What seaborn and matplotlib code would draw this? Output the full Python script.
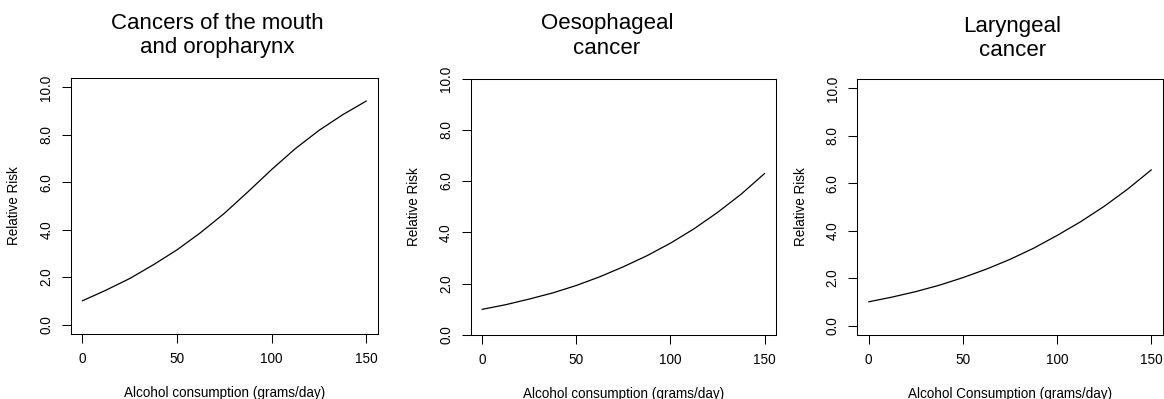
import numpy as np
import pandas as pd
import matplotlib
matplotlib.use("Agg")
import matplotlib.pyplot as plt
import seaborn as sns

dose = [0, 12.5, 25, 37.5, 50, 62.5, 75, 87.5, 100, 112.5, 125, 137.5, 150]

# relative risk
rr_mouth = [1.00, 1.45, 1.94, 2.52, 3.15, 3.88, 4.69, 5.60, 6.54, 7.42, 8.19, 8.85, 9.43]
rr_oesoph = [1.00, 1.18, 1.40, 1.64, 1.93, 2.27, 2.66, 3.09, 3.58, 4.14, 4.78, 5.49, 6.30]
rr_larynx = [1.00, 1.20, 1.43, 1.70, 2.02, 2.38, 2.79, 3.26, 3.80, 4.38, 5.03, 5.76, 6.57]

titles = ["Cancers of the mouth\nand oropharynx", "Oesophageal\ncancer", "Laryngeal\ncancer"]
xlabels = ["Alcohol consumption (grams/day)", "Alcohol consumption (grams/day)",
           "Alcohol Consumption (grams/day)"]
ylabel = "Relative Risk"
xticks = [0, 50, 100, 150]
yticks = [0, 2, 4, 6, 8, 10]
ytick_labels = ["0.0", "2.0", "4.0", "6.0", "8.0", "10.0"]

sns.set_style("white")
plt.rcParams['font.family'] = ['Liberation Sans', 'DejaVu Sans']
plt.rcParams['text.color'] = 'black'
plt.rcParams['axes.labelcolor'] = 'black'

W, H = 1164, 399
fig = plt.figure(figsize=(W / 100, H / 100), dpi=100)

# axes boxes in pixels: left, top, right, bottom
boxes = [(71, 78, 377.7, 334), (470.7, 78.5, 776, 335), (857.3, 79, 1162.7, 335)]
ylims = [(-0.4, 10.4), (0, 10), (-0.4, 10.4)]
title_x = [0.477, 0.446, 0.508]
title_y = [1.166, 1.166, 1.159]

df = pd.DataFrame({"dose": dose, "mouth": rr_mouth, "oesoph": rr_oesoph, "larynx": rr_larynx})
cols = ["mouth", "oesoph", "larynx"]

for i, (l, t, r, b) in enumerate(boxes):
    ax = fig.add_axes([l / W, (H - b) / H, (r - l) / W, (b - t) / H])
    sns.lineplot(data=df, x="dose", y=cols[i], ax=ax, color="black", linewidth=0.9)
    ax.set_xlim(-6, 156)
    ax.set_ylim(*ylims[i])
    ax.set_xticks(xticks)
    ax.set_xticklabels([str(v) for v in xticks])
    ax.set_yticks(yticks)
    ax.set_yticklabels(ytick_labels)
    ax.tick_params(axis="both", direction="out", length=6.5, width=0.75,
                   labelsize=9.75, colors="black", left=True, bottom=True)
    ax.tick_params(axis="x", pad=6.5)
    ax.tick_params(axis="y", pad=6.2, labelrotation=90)
    for lab in ax.get_yticklabels():
        lab.set_va("center")
    for sp in ax.spines.values():
        sp.set_visible(True)
        sp.set_color("black")
        sp.set_linewidth(0.75)

    ax.set_xlabel(xlabels[i], fontsize=9.75)
    ax.xaxis.set_label_coords(0.5, -59 / (b - t))
    ax.xaxis.label.set_va("center")
    ax.set_ylabel(ylabel, fontsize=9.75)
    ax.yaxis.set_label_coords(-56.5 / (r - l), 0.5)
    ax.yaxis.label.set_va("center")

    ax.set_title(titles[i], x=title_x[i], y=title_y[i], va="center", pad=0,
                 fontsize=16, linespacing=1.2, color="black")

fig.savefig("out.png", dpi=100)
